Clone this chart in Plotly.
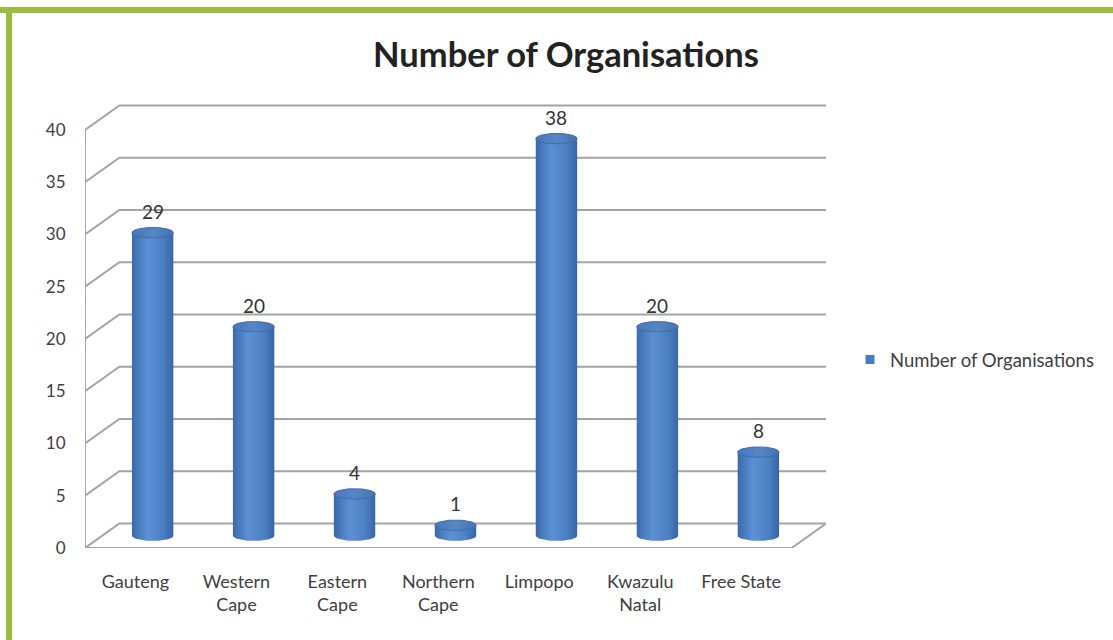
import plotly.graph_objects as go
import numpy as np

# Organisations per province
provinces = ["Gauteng", "Western<br>Cape", "Eastern<br>Cape", "Northern<br>Cape",
             "Limpopo", "Kwazulu<br>Natal", "Free State"]
organisations = [29, 20, 4, 1, 38, 20, 8]
y_ticks = [0, 5, 10, 15, 20, 25, 30, 35, 40]
series_name = "Number of Organisations"

# 3-D look: depth offset of the back wall in data units
DX = 0.34
DY = 2.35
RX = 0.205   # cylinder radius (x units)
RY = 0.5     # ellipse half-height (y units)

W, H = 1113, 640
L, R, T, B = 85, 287, 100, 92
plot_w = W - L - R
plot_h = H - T - B
y_max = plot_h / 10.45

fig = go.Figure()

# wall / floor frame lines
gx, gy = [], []
x0, x1 = -0.5, len(provinces) - 0.5
for v in y_ticks:
    gx += [x0, x0 + DX, x1 + DX, None]
    gy += [v, v + DY, v + DY, None]
gx += [x0, x0, None, x0, x1, x1 + DX, None]
gy += [y_ticks[0], y_ticks[-1], None, 0, 0, DY, None]
fig.add_trace(go.Scatter(x=gx, y=gy, mode="lines",
                         line=dict(color="#a4a4a4", width=2),
                         hoverinfo="skip", showlegend=False))

# cylinders
t_low = np.linspace(0, np.pi, 40)          # lower half of ellipse, right -> left
t_full = np.linspace(0, 2 * np.pi, 80)
body_scale = [[0, "#3a6aab"], [0.38, "#5c90d4"], [0.75, "#4d80c2"], [1, "#3766a6"]]
top_scale = [[0, "#4677b8"], [0.5, "#5686c6"], [1, "#4373b3"]]
for i, v in enumerate(organisations):
    cx = i + DX / 2
    base = DY / 2
    top = v + DY / 2
    bx = [cx - RX, cx + RX] + list(cx + RX * np.cos(t_low)) + [cx - RX]
    by = [top, top] + list(base - RY * np.sin(t_low)) + [top]
    fig.add_trace(go.Scatter(x=bx, y=by, mode="lines", fill="toself",
                             line=dict(width=0),
                             fillgradient=dict(type="horizontal", colorscale=body_scale),
                             hoverinfo="skip", showlegend=False))
    fig.add_trace(go.Scatter(x=list(cx + RX * np.cos(t_full)),
                             y=list(top + RY * np.sin(t_full)),
                             mode="lines", fill="toself",
                             line=dict(width=1, color="#3d6dad"),
                             fillgradient=dict(type="horizontal", colorscale=top_scale),
                             hoverinfo="skip", showlegend=False))
    fig.add_annotation(x=cx, y=top, text=str(v), showarrow=False,
                       yanchor="bottom", yshift=8,
                       font=dict(family="Lato", size=19, color="#333333"))

# legend entry
fig.add_trace(go.Scatter(x=[None], y=[None], mode="markers", name=series_name,
                         marker=dict(symbol="square", size=9, color="#4a7dc0")))

fig.update_layout(
    width=W, height=H,
    margin=dict(l=L, r=R, t=T, b=B, autoexpand=False),
    paper_bgcolor="white", plot_bgcolor="white",
    title=dict(text="<b>Number of Organisations</b>", x=566 / W, xanchor="center",
               y=1 - 55 / H, yanchor="middle",
               font=dict(family="Lato", size=34.5, color="#222222")),
    xaxis=dict(range=[x0, x1 + DX], tickmode="array",
               tickvals=list(range(len(provinces))), ticktext=provinces,
               showgrid=False, zeroline=False, showline=False,
               ticks="outside", ticklen=17, tickcolor="rgba(0,0,0,0)",
               tickfont=dict(family="Lato", size=18, color="#404040")),
    yaxis=dict(range=[0, y_max], tickmode="array", tickvals=y_ticks,
               showgrid=False, zeroline=False, showline=False,
               ticks="outside", ticklen=15, tickcolor="rgba(0,0,0,0)",
               tickfont=dict(family="Lato", size=17, color="#404040")),
    legend=dict(x=(850 - L) / plot_w, y=(548 - 360) / plot_h,
                xanchor="left", yanchor="middle", bgcolor="rgba(0,0,0,0)",
                font=dict(family="Lato", size=18.5, color="#404040"),
                itemwidth=30),
    shapes=[
        dict(type="rect", xref="paper", yref="paper", x0=-0.2, x1=2,
             y0=1 + (T - 13) / plot_h, y1=1 + (T - 7) / plot_h,
             fillcolor="#9dbb3c", line=dict(width=0), layer="above"),
        dict(type="rect", xref="paper", yref="paper",
             x0=(6 - L) / plot_w, x1=(12 - L) / plot_w,
             y0=-1, y1=1 + (T - 7) / plot_h,
             fillcolor="#9dbb3c", line=dict(width=0), layer="above"),
    ],
)

fig.write_html("out.html")
